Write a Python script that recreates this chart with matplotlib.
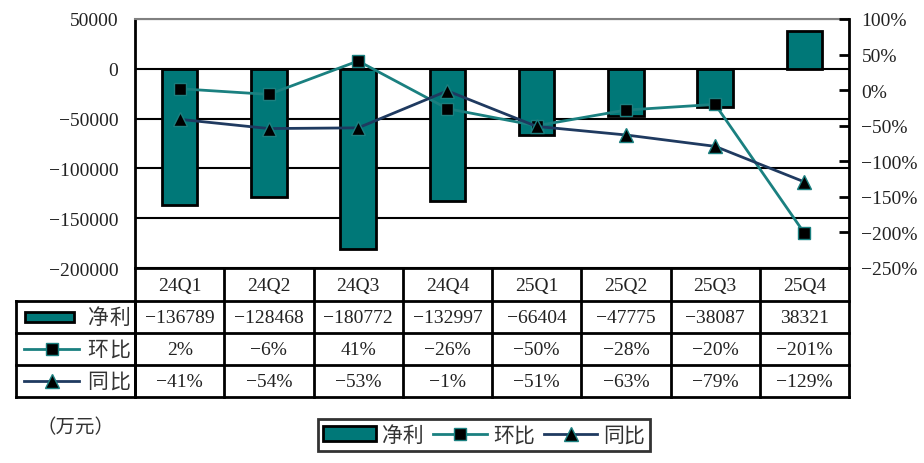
import numpy as np
import matplotlib.pyplot as plt
from matplotlib.ticker import FuncFormatter
from matplotlib.transforms import blended_transform_factory
from matplotlib.patches import Rectangle
from matplotlib.lines import Line2D

plt.rcParams['font.family'] = ['Liberation Serif', 'Noto Sans CJK SC']
plt.rcParams['axes.unicode_minus'] = True

# data
quarters = ['24Q1', '24Q2', '24Q3', '24Q4', '25Q1', '25Q2', '25Q3', '25Q4']
net_profit = [-136789, -128468, -180772, -132997, -66404, -47775, -38087, 38321]
qoq = [2, -6, 41, -26, -50, -28, -20, -201]      # 环比 %
yoy = [-41, -54, -53, -1, -51, -63, -79, -129]   # 同比 %
row_names = ['净利', '环比', '同比']

TEAL = '#007878'
QOQ_C = '#1a8080'
YOY_C = '#1f3a60'
TXT = '#222222'
FS = 14
W, H = 924, 464

fig = plt.figure(figsize=(W / 100, H / 100), dpi=100)
ax = fig.add_axes([135 / W, 1 - 269 / H, (849 - 135) / W, (269 - 20) / H])
x = np.arange(len(quarters))

# bars
ax.bar(x, net_profit, width=0.4, color=TEAL, edgecolor='black', linewidth=2, zorder=3)
ax.set_xlim(-0.5, len(quarters) - 0.5)
ax.set_ylim(-200000, 50000)
ax.set_yticks(np.arange(-200000, 50001, 50000))
ax.yaxis.set_major_formatter(FuncFormatter(lambda v, p: f'{int(v)}'.replace('-', '\u2212')))
ax.set_xticks([])
ax.tick_params(axis='y', length=0, pad=12, labelsize=FS, labelcolor=TXT)
ax.set_axisbelow(True)
ax.grid(axis='y', color='black', linewidth=1.5)
for s in ['left', 'bottom']:
    ax.spines[s].set_linewidth(2)
ax.spines['top'].set_color('#808080')
ax.spines['top'].set_linewidth(1.5)
ax.spines['right'].set_visible(False)

# lines on secondary axis
ax2 = ax.twinx()
ax2.set_ylim(-250, 100)
ax2.set_yticks(np.arange(-250, 101, 50))
ax2.yaxis.set_major_formatter(FuncFormatter(lambda v, p: f'{int(v)}%'.replace('-', '\u2212')))
ax2.tick_params(axis='y', direction='in', length=7, width=2, pad=9, labelsize=FS, labelcolor=TXT)
ax2.spines['right'].set_linewidth(2)
for s in ['left', 'top', 'bottom']:
    ax2.spines[s].set_visible(False)
ax2.plot(x, qoq, color=QOQ_C, linewidth=2, marker='s', markersize=9,
         markerfacecolor='black', markeredgecolor=QOQ_C, markeredgewidth=1, zorder=4)
ax2.plot(x, yoy, color=YOY_C, linewidth=2, marker='^', markersize=9.5,
         markerfacecolor='black', markeredgecolor=QOQ_C, markeredgewidth=1, zorder=4)

# data table below the plot
tab = fig.add_axes([0, 0, 1, 1], zorder=-1)
tab.set_xlim(0, W)
tab.set_ylim(H, 0)
tab.axis('off')
tr = blended_transform_factory(ax.transData, tab.transData)

row_y = [269, 302, 334, 366, 398]
for yy in row_y[1:]:
    tab.plot([16, 849], [yy, yy], color='black', linewidth=2, solid_capstyle='projecting')
for e in np.arange(len(quarters) + 1) - 0.5:
    tab.plot([e, e], [row_y[0], row_y[-1]], color='black', linewidth=2, transform=tr)
for xx in [16, 135]:
    tab.plot([xx, xx], [row_y[1], row_y[-1]], color='black', linewidth=2)

for i, q in enumerate(quarters):
    tab.text(i, (row_y[0] + row_y[1]) / 2 + 1, q, transform=tr, ha='center', va='center',
             fontsize=FS, color=TXT)
    vals = [f'{net_profit[i]}', f'{qoq[i]}%', f'{yoy[i]}%']
    for r, v in enumerate(vals):
        tab.text(i, (row_y[r + 1] + row_y[r + 2]) / 2 + 1, v.replace('-', '\u2212'), transform=tr,
                 ha='center', va='center', fontsize=FS, color=TXT)

# row headers with legend glyphs
ymid = [(row_y[r + 1] + row_y[r + 2]) / 2 for r in range(3)]
tab.add_patch(Rectangle((25, ymid[0] - 5), 49, 10, facecolor=TEAL, edgecolor='black', linewidth=2))
tab.plot([24, 51.5, 79], [ymid[1]] * 3, color=QOQ_C, linewidth=2, marker='s', markevery=[1],
         markersize=9, markerfacecolor='black', markeredgecolor=QOQ_C)
tab.plot([24, 51.5, 79], [ymid[2]] * 3, color=YOY_C, linewidth=2, marker='^', markevery=[1],
         markersize=9.5, markerfacecolor='black', markeredgecolor=QOQ_C)
for r, name in enumerate(row_names):
    for k, ch in enumerate(name):
        tab.text(98 + 22 * k, ymid[r], ch, ha='center', va='center', fontsize=15,
                 family='Noto Sans CJK SC', color='#333333')

tab.text(75, 428, '（万元）', ha='center', va='center', fontsize=14, family='Noto Sans CJK SC', color='#333333')

# legend
handles = [
    Rectangle((0, 0), 1, 1, facecolor=TEAL, edgecolor='black', linewidth=2),
    Line2D([], [], color=QOQ_C, linewidth=2, marker='s', markersize=9,
           markerfacecolor='black', markeredgecolor=QOQ_C),
    Line2D([], [], color=YOY_C, linewidth=2, marker='^', markersize=9.5,
           markerfacecolor='black', markeredgecolor=QOQ_C),
]
leg = fig.legend(handles, row_names, loc='center', bbox_to_anchor=(484 / W, 1 - 436 / H), ncol=3,
                 frameon=True, fancybox=False, edgecolor='black', handlelength=2.55, handleheight=0.7,
                 handletextpad=0.3, columnspacing=0.45, borderpad=0.22, borderaxespad=0,
                 prop={'family': 'Noto Sans CJK SC', 'size': 15})
leg.get_frame().set_linewidth(2)
for t in leg.get_texts():
    t.set_color('#333333')

fig.savefig('out.png', dpi=100)
